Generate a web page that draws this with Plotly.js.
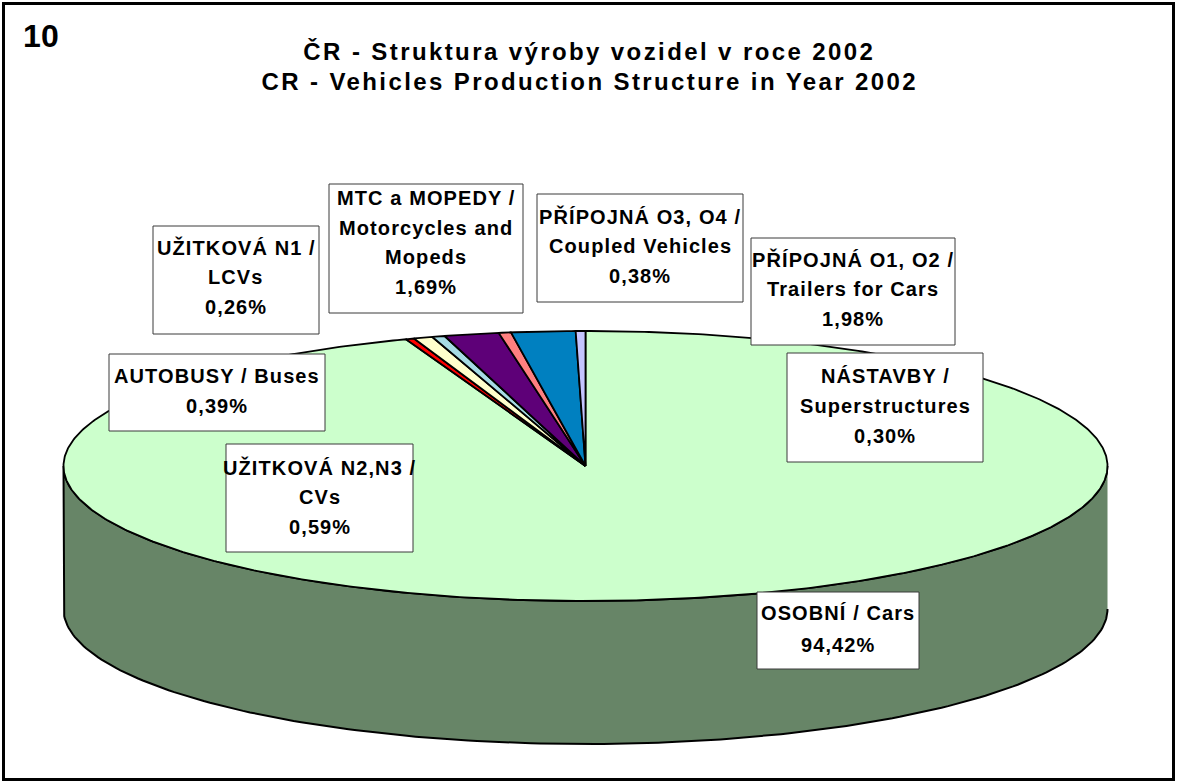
<!DOCTYPE html>
<html><head><meta charset="utf-8">
<script src="https://cdn.plot.ly/plotly-3.0.1.min.js"></script>
<style>
html,body{margin:0;padding:0;background:#fff;}
#chart{width:1177px;height:783px;}
.annotation-text{letter-spacing:1.1px;}
g.annotation[data-index="0"] .annotation-text,
g.annotation[data-index="1"] .annotation-text{letter-spacing:2.4px;}
g.annotation[data-index="2"] .annotation-text{letter-spacing:0px;}
</style></head><body><div id="chart"></div>
<script>
// ---- data ----
const chartNumber = '10';
const titleLines = ['ČR - Struktura výroby vozidel v roce 2002', 'CR - Vehicles Production Structure in Year 2002'];
const categories = ['OSOBNÍ / Cars', 'UŽITKOVÁ N1 / LCVs', 'UŽITKOVÁ N2,N3 / CVs', 'AUTOBUSY / Buses',
  'MTC a MOPEDY / Motorcycles and Mopeds', 'PŘÍPOJNÁ O3, O4 / Coupled Vehicles',
  'PŘÍPOJNÁ O1, O2 / Trailers for Cars', 'NÁSTAVBY / Superstructures'];
const labelLines = [
  ['OSOBNÍ / Cars'],
  ['UŽITKOVÁ N1 /', 'LCVs'],
  ['UŽITKOVÁ N2,N3 /', 'CVs'],
  ['AUTOBUSY / Buses'],
  ['MTC a MOPEDY /', 'Motorcycles and', 'Mopeds'],
  ['PŘÍPOJNÁ O3, O4 /', 'Coupled Vehicles'],
  ['PŘÍPOJNÁ O1, O2 /', 'Trailers for Cars'],
  ['NÁSTAVBY /', 'Superstructures']
];
const shares = [94.42, 0.26, 0.59, 0.39, 1.69, 0.38, 1.98, 0.30];
const colors = ['#CCFFCC', '#FF0000', '#FFFFCC', '#A6DCE4', '#5E0078', '#FF8080', '#0080C0', '#C4C4FF'];
const sideColor = '#678567';

// ---- layout geometry (pixels) ----
const W = 1177, H = 783;
const cx = 585.5, cy = 466, rx = 522, ry = 135, depth = 143;
// label boxes: [x0, y0, x1, y1, firstBaseline, lineGap]
const boxes = [
  [757, 592, 919, 669, 620, 32],
  [153, 226, 319, 334, 254, 30],
  [226, 444, 413, 552, 474, 30],
  [109, 354, 325, 431, 383, 30],
  [329, 184, 523, 313, 205, 29.5],
  [537, 194, 743, 302, 223, 30],
  [751, 238, 955, 345, 266, 30],
  [787, 353, 983, 462, 383, 30]
];

const fontFam = 'Arial, "Liberation Sans", Helvetica, sans-serif';
const total = shares.reduce((a, b) => a + b, 0);
const deg = Math.PI / 180;
function pt(t, dy) { return [cx + rx * Math.sin(t), cy - ry * Math.cos(t) + (dy || 0)]; }

const traces = [];
// side wall (front half, covered by the first slice)
(function () {
  const xs = [], ys = [];
  for (let a = 90; a <= 270; a += 1) { const p = pt(a * deg); xs.push(p[0]); ys.push(p[1]); }
  for (let a = 270; a >= 90; a -= 1) { const p = pt(a * deg, depth); xs.push(p[0]); ys.push(p[1]); }
  traces.push({ type: 'scatter', mode: 'lines', x: xs, y: ys, fill: 'toself', fillcolor: sideColor,
    line: { color: '#000', width: 2 }, hoverinfo: 'text', text: categories[0], showlegend: false });
})();

let cum = 0;
shares.forEach((v, i) => {
  const a0 = cum / total * 2 * Math.PI;
  cum += v;
  const a1 = cum / total * 2 * Math.PI;
  const n = Math.max(4, Math.ceil((a1 - a0) / (0.5 * deg)));
  const xs = [cx], ys = [cy];
  for (let k = 0; k <= n; k++) { const p = pt(a0 + (a1 - a0) * k / n); xs.push(p[0]); ys.push(p[1]); }
  xs.push(cx); ys.push(cy);
  traces.push({ type: 'scatter', mode: 'lines', x: xs, y: ys, fill: 'toself', fillcolor: colors[i],
    line: { color: '#000', width: 1.8 }, hoverinfo: 'text',
    text: categories[i] + ': ' + v.toFixed(2).replace('.', ',') + '%', showlegend: false });
});

const annotations = [];
const shapes = [];
annotations.push({ x: 589, y: 51, xref: 'x', yref: 'y', text: titleLines[0], showarrow: false,
  font: { family: fontFam, size: 24, color: '#000', weight: 700 }, xanchor: 'center', yanchor: 'middle' });
annotations.push({ x: 589, y: 81, xref: 'x', yref: 'y', text: titleLines[1], showarrow: false,
  font: { family: fontFam, size: 24, color: '#000', weight: 700 }, xanchor: 'center', yanchor: 'middle' });
annotations.push({ x: 41, y: 36, xref: 'x', yref: 'y', text: chartNumber, showarrow: false,
  font: { family: fontFam, size: 32, color: '#000', weight: 700 }, xanchor: 'center', yanchor: 'middle' });

shapes.push({ type: 'rect', xref: 'x', yref: 'y', x0: 3.5, y0: 3.5, x1: W - 3.5, y1: H - 3.5,
  line: { color: '#000', width: 3 }, fillcolor: 'rgba(0,0,0,0)', layer: 'above' });

boxes.forEach((b, i) => {
  shapes.push({ type: 'rect', xref: 'x', yref: 'y', x0: b[0], y0: b[1], x1: b[2], y1: b[3],
    line: { color: '#3a3a3a', width: 1 }, fillcolor: '#fff', layer: 'above' });
  const lines = labelLines[i].concat([shares[i].toFixed(2).replace('.', ',') + '%']);
  const xc = (b[0] + b[2]) / 2;
  lines.forEach((t, k) => {
    annotations.push({ x: xc, y: b[4] + k * b[5] - 7, xref: 'x', yref: 'y', text: t, showarrow: false,
      font: { family: fontFam, size: 20, color: '#000', weight: 700 }, xanchor: 'center', yanchor: 'middle' });
  });
});

const layout = {
  width: W, height: H, margin: { l: 0, r: 0, t: 0, b: 0, pad: 0 },
  paper_bgcolor: '#fff', plot_bgcolor: '#fff', showlegend: false,
  xaxis: { range: [0, W], visible: false, fixedrange: true },
  yaxis: { range: [H, 0], visible: false, fixedrange: true },
  shapes: shapes, annotations: annotations, hovermode: 'closest'
};
Plotly.newPlot('chart', traces, layout, { displayModeBar: false, staticPlot: true });
</script></body></html>
